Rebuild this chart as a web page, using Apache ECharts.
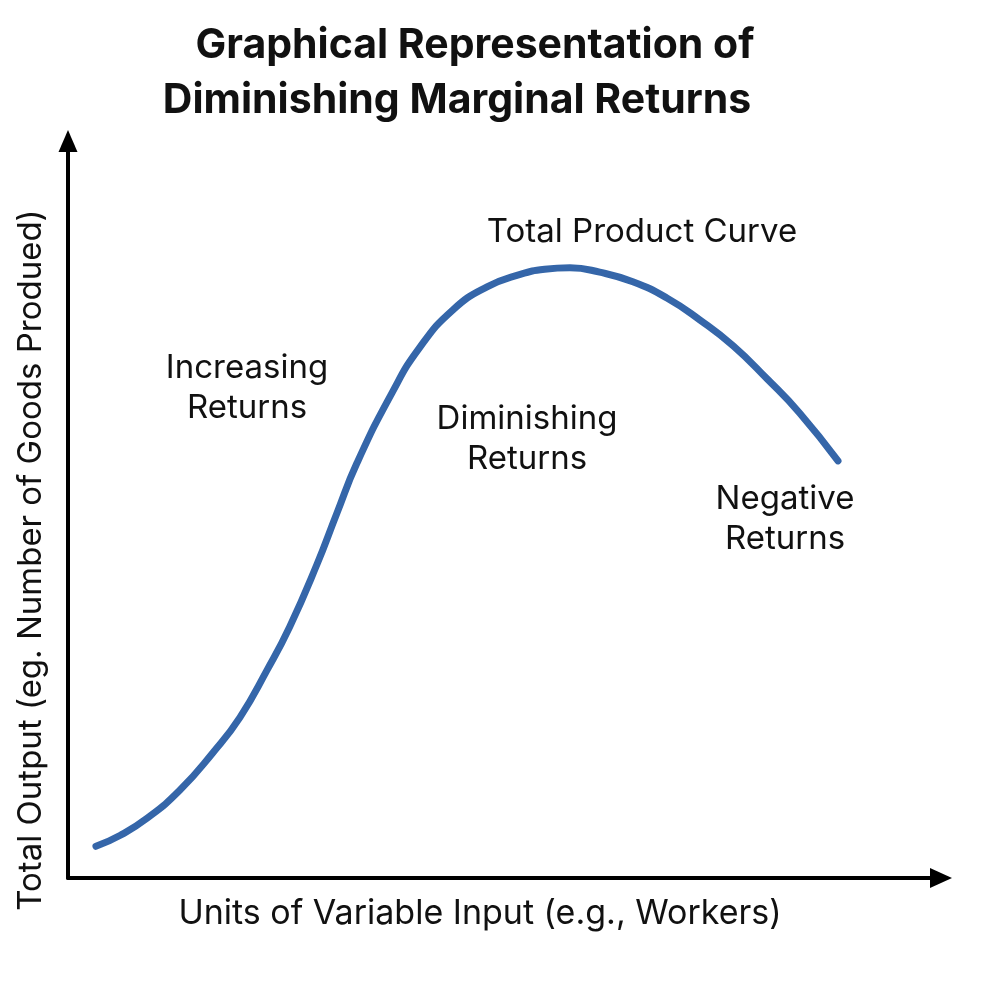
<!DOCTYPE html>
<html>
<head>
<meta charset="utf-8">
<script src="https://cdn.jsdelivr.net/npm/echarts@6/dist/echarts.min.js"></script>
<style>
html, body { margin: 0; padding: 0; background: #fff; }
#chart { width: 984px; height: 984px; }
</style>
</head>
<body>
<div id="chart"></div>
<script>
// units of input (0-100 scale) and total output
var inputUnits = [3.2, 6.0, 9.05, 12.8, 16.6, 19.7, 22.8, 25.4, 28.5, 30.8, 33.1, 37.1, 40.3, 44.1, 48.0, 51.8, 54.6, 57.5, 60.9, 64.7, 68.6, 72.4, 76.2, 80.1, 83.8, 88.2];
var totalOutput = [4.3, 5.8, 8.1, 11.9, 17.0, 21.8, 28.2, 34.1, 42.5, 49.5, 56.3, 65.8, 72.0, 77.1, 80.2, 81.9, 82.6, 82.8, 82.2, 80.9, 78.7, 75.7, 72.2, 67.7, 63.1, 56.6];

var titleLines = ['Graphical Representation of', 'Diminishing Marginal Returns'];

var regionLabels = [
	{ text: 'Total Product Curve', x: 642, y: 232 },
	{ text: 'Increasing\nReturns', x: 247, y: 388 },
	{ text: 'Diminishing\nReturns', x: 527, y: 439 },
	{ text: 'Negative\nReturns', x: 785, y: 519 }
];

var chart = echarts.init(document.getElementById('chart'));

var data = [];
for (var i = 0; i < inputUnits.length; i++) {
	data.push([inputUnits[i], totalOutput[i]]);
}

var font = 'Inter, "Liberation Sans", sans-serif';

var graphics = regionLabels.map(function(l) {
	return {
		type: 'text',
		x: l.x,
		y: l.y,
		style: {
			text: l.text,
			font: '33px ' + font,
			fill: '#111',
			align: 'center',
			verticalAlign: 'middle',
			lineHeight: 40
		}
	};
});

// axis titles
graphics.push({
	type: 'text',
	x: 480,
	y: 914,
	style: {
		text: 'Units of Variable Input (e.g., Workers)',
		font: '34px ' + font,
		fill: '#111',
		align: 'center',
		verticalAlign: 'middle'
	}
});
graphics.push({
	type: 'text',
	x: 31,
	y: 560,
	rotation: Math.PI / 2,
	style: {
		text: 'Total Output (eg. Number of Goods Produed)',
		font: '33px ' + font,
		fill: '#111',
		align: 'center',
		verticalAlign: 'middle'
	}
});

var titleCenters = [470, 452];
var titles = titleLines.map(function(t, idx) {
	return {
		text: t,
		left: titleCenters[idx],
		top: 20 + idx * 55,
		textAlign: 'center',
		textStyle: {
			fontFamily: font,
			fontSize: 41,
			fontWeight: 'bold',
			color: '#111'
		}
	};
});

var option = {
	backgroundColor: '#fff',
	animation: false,
	title: titles,
	grid: {
		left: 68,
		top: 141,
		right: 43,
		bottom: 106
	},
	xAxis: {
		type: 'value',
		min: 0,
		max: 100,
		axisLine: {
			lineStyle: { color: '#000', width: 4 },
			symbol: ['none', 'triangle'],
			symbolSize: [20, 22]
		},
		axisTick: { show: false },
		axisLabel: { show: false },
		splitLine: { show: false }
	},
	yAxis: {
		type: 'value',
		min: 0,
		max: 100,
		axisLine: {
			show: true,
			lineStyle: { color: '#000', width: 4 },
			symbol: ['none', 'triangle'],
			symbolSize: [19, 22]
		},
		axisTick: { show: false },
		axisLabel: { show: false },
		splitLine: { show: false }
	},
	graphic: graphics,
	series: [{
		type: 'line',
		data: data,
		smooth: 0.5,
		showSymbol: false,
		lineStyle: { color: '#3566a9', width: 7, cap: 'round' }
	}]
};
chart.setOption(option);
</script>
</body>
</html>
